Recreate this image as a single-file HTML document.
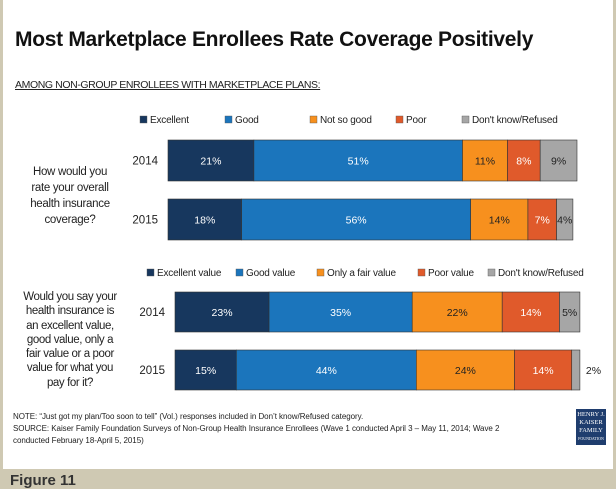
<!DOCTYPE html>
<html><head><meta charset="utf-8"><style>
body{margin:0;width:616px;height:489px;background:#cfc9b3;font-family:"Liberation Sans",sans-serif;position:relative;overflow:hidden}
.panel{position:absolute;left:3px;top:0;width:610px;height:469px;background:#fff}
.t{position:absolute;white-space:nowrap}
</style></head><body>
<div class="panel"></div>
<div class="t" style="left:15px;top:28px;font-size:21px;font-weight:bold;color:#111;letter-spacing:-0.3px">Most Marketplace Enrollees Rate Coverage Positively</div>
<div class="t" style="left:15px;top:79px;font-size:10.5px;text-decoration:underline;color:#222;letter-spacing:-0.4px">AMONG NON-GROUP ENROLLEES WITH MARKETPLACE PLANS:</div>
<div class="t" style="left:15px;top:164px;width:110px;font-size:11.5px;line-height:16px;text-align:center;color:#222;letter-spacing:-0.3px">How would you<br>rate your overall<br>health insurance<br>coverage?</div>
<div class="t" style="left:10px;top:290px;width:120px;font-size:11.5px;line-height:14.3px;text-align:center;color:#222;letter-spacing:-0.4px">Would you say your<br>health insurance is<br>an excellent value,<br>good value, only a<br>fair value or a poor<br>value for what you<br>pay for it?</div>
<svg id="c" width="616" height="489" style="position:absolute;left:0;top:0" font-family="Liberation Sans, sans-serif"></svg>
<div class="t" style="left:13px;top:411px;font-size:8px;line-height:12px;color:#222;white-space:normal;width:510px;letter-spacing:-0.05px">NOTE: “Just got my plan/Too soon to tell” (Vol.) responses included in Don’t know/Refused category.<br>SOURCE: Kaiser Family Foundation Surveys of Non-Group Health Insurance Enrollees (Wave 1 conducted April 3 – May 11, 2014; Wave 2 conducted February 18-April 5, 2015)</div>
<div style="position:absolute;left:576px;top:409px;width:30px;height:36px;background:#1f3d6e;color:#fff;font-family:'Liberation Serif',serif;text-align:center;font-size:6.5px;line-height:8px;padding-top:2px;box-sizing:border-box">HENRY J.<br>KAISER<br>FAMILY<br><span style="font-size:4px">FOUNDATION</span></div>
<div class="t" style="left:10px;top:472px;font-size:15px;font-weight:bold;color:#333">Figure 11</div>
<script>
const colors=["#17375e","#1b75bc","#f7901e","#e05a2b","#a6a6a6"];
const textColors=["#fff","#fff","#222","#fff","#222"];
const legend1=["Excellent","Good","Not so good","Poor","Don't know/Refused"];
const legend2=["Excellent value","Good value","Only a fair value","Poor value","Don't know/Refused"];
const years=["2014","2015"];
const q1_2014=[21,51,11,8,9];
const q1_2015=[18,56,14,7,4];
const q2_2014=[23,35,22,14,5];
const q2_2015=[15,44,24,14,2];
const svg=document.getElementById('c');
const NS="http://www.w3.org/2000/svg";
function mk(tag,attrs){const e=document.createElementNS(NS,tag);for(const k in attrs)e.setAttribute(k,attrs[k]);svg.appendChild(e);return e;}
const scale=v=>v*4.09;
function drawLegend(labels,xs,y){labels.forEach((l,i)=>{
 const r=mk('rect',{x:xs[i],y:y-4,width:7,height:7,fill:colors[i],stroke:'#555','stroke-width':0.4});
 
 const t=mk('text',{x:xs[i]+10,y:y+3,'font-size':10,fill:'#222','letter-spacing':-0.2});t.textContent=l;
 });}
function drawBar(vals,x0,y,h,year,outsideLast){
 const yl=mk('text',{x:x0-10,y:y+h/2+4,'font-size':11.5,fill:'#222','text-anchor':'end'});yl.textContent=year;
 
 let x=x0;vals.forEach((v,i)=>{const w=scale(v);
  const r=mk('rect',{x:x,y:y,width:w,height:h,fill:colors[i],stroke:'#333','stroke-width':0.6});
  
  const out=outsideLast&&i===vals.length-1;
  const t=mk('text',{x:out?x+w+6:x+w/2,y:y+h/2+4,'font-size':10.5,fill:out?'#222':textColors[i],'text-anchor':out?'start':'middle'});t.textContent=v+'%';
  
  x+=w;});}
drawLegend(legend1,[140,225,310,396,462],120);
drawBar(q1_2014,168,140,41,years[0],false);
drawBar(q1_2015,168,199,41,years[1],false);
drawLegend(legend2,[147,236,317,418,488],273);
drawBar(q2_2014,175,292,40,years[0],false);
drawBar(q2_2015,175,350,40,years[1],true);
</script>
</body></html>
